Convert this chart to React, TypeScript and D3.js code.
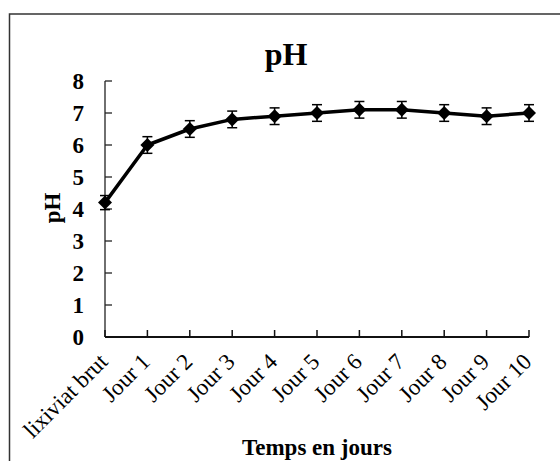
import React from "react";
import * as d3 from "d3";

const categories = ["lixiviat brut", "Jour 1", "Jour 2", "Jour 3", "Jour 4", "Jour 5", "Jour 6", "Jour 7", "Jour 8", "Jour 9", "Jour 10"];
const phValues = [4.2, 6.0, 6.5, 6.8, 6.9, 7.0, 7.1, 7.1, 7.0, 6.9, 7.0];
const phErrors = [0.22, 0.26, 0.26, 0.26, 0.26, 0.26, 0.26, 0.26, 0.26, 0.26, 0.26];
const yTicks = [0, 1, 2, 3, 4, 5, 6, 7, 8];

const W = 560;
const H = 461;
const FONT = "'Liberation Serif', 'Times New Roman', serif";

export default function App() {
  const x = d3.scalePoint<string>().domain(categories).range([105, 529]);
  const y = d3.scaleLinear().domain([0, 8]).range([337, 81]);
  const line = d3
    .line<number>()
    .x((_, i) => x(categories[i]) as number)
    .y((d) => y(d));
  const diamond = (cx: number, cy: number, r: number) =>
    `M${cx},${cy - r}L${cx + r},${cy}L${cx},${cy + r}L${cx - r},${cy}Z`;

  return (
    <svg
      width={W}
      height={H}
      style={{ position: "absolute", left: 0, top: 0, background: "#fff" }}
    >
      {/* chart frame */}
      <rect x={9.5} y={14} width={W + 20} height={H + 20} fill="none" stroke="#333" strokeWidth={1.5} />

      <text x={286} y={65} textAnchor="middle" fontFamily={FONT} fontWeight="bold" fontSize={32}>
        pH
      </text>

      {/* y axis */}
      <line x1={105} x2={105} y1={y(8)} y2={y(0)} stroke="#222" strokeWidth={1.3} />
      {yTicks.map((t) => (
        <g key={t}>
          <line x1={105} x2={112} y1={y(t)} y2={y(t)} stroke="#222" strokeWidth={1.3} />
          <text
            x={84}
            y={y(t)}
            dy="0.35em"
            textAnchor="end"
            fontFamily={FONT}
            fontWeight="bold"
            fontSize={23}
          >
            {t}
          </text>
        </g>
      ))}
      <text
        transform={`translate(60,208) rotate(-90)`}
        textAnchor="middle"
        fontFamily={FONT}
        fontWeight="bold"
        fontSize={23}
      >
        pH
      </text>

      {/* x axis */}
      <line x1={105} x2={529} y1={y(0)} y2={y(0)} stroke="#111" strokeWidth={2} />
      {categories.map((c) => (
        <g key={c}>
          <line x1={x(c)} x2={x(c)} y1={y(0)} y2={y(0) - 7} stroke="#111" strokeWidth={1.5} />
          <text
            transform={`translate(${(x(c) as number) + 4},363) rotate(-45)`}
            textAnchor="end"
            fontFamily={FONT}
            fontSize={23}
          >
            {c}
          </text>
        </g>
      ))}
      <text x={317} y={455} textAnchor="middle" fontFamily={FONT} fontWeight="bold" fontSize={23}>
        Temps en jours
      </text>

      {/* error bars */}
      {phValues.map((v, i) => {
        const cx = x(categories[i]) as number;
        const e = phErrors[i];
        return (
          <g key={i} stroke="#000" strokeWidth={1.5}>
            <line x1={cx} x2={cx} y1={y(v + e)} y2={y(v - e)} />
            <line x1={cx - 5} x2={cx + 5} y1={y(v + e)} y2={y(v + e)} />
            <line x1={cx - 5} x2={cx + 5} y1={y(v - e)} y2={y(v - e)} />
          </g>
        );
      })}

      <path d={line(phValues) || ""} fill="none" stroke="#000" strokeWidth={3.5} strokeLinejoin="round" />
      {phValues.map((v, i) => (
        <path key={i} d={diamond(x(categories[i]) as number, y(v), 7)} fill="#000" />
      ))}
    </svg>
  );
}
